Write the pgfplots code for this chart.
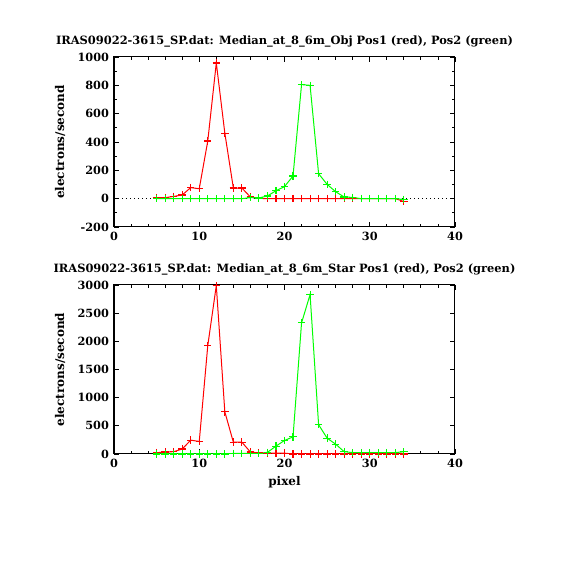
\documentclass[border=0pt]{standalone}
\usepackage{fontspec}
\setmainfont{DejaVu Serif}
\usepackage{pgfplots}
\pgfplotsset{compat=1.18}
\definecolor{pred}{RGB}{255,0,0}
\definecolor{pgreen}{RGB}{0,255,0}
\pgfplotsset{
  myaxis/.style={
    scale only axis, width=238.7pt, anchor=south west,
    xmin=0, xmax=40, xtick={0,10,20,30,40}, minor x tick num=4,
    tick align=inside, major tick length=3.5pt, minor tick length=1.8pt,
    every tick/.style={black, line width=0.6pt},
    axis line style={line width=0.7pt},
    /pgf/number format/assume math mode=true,
    /pgf/number format/1000 sep={},
    tick label style={font=\bfseries\fontsize{7.9}{9}\selectfont},
    title style={at={(axis description cs:0.5,1)}, anchor=base, yshift=2.4pt, font=\bfseries\fontsize{8.0}{9}\selectfont},
    ylabel style={at={(axis description cs:-0.158,0.5)}, anchor=center, font=\bfseries\fontsize{8.4}{10}\selectfont},
    xlabel style={at={(axis description cs:0.5,-0.166)}, anchor=center, font=\bfseries\fontsize{8.4}{10}\selectfont},
    ylabel={electrons/second},
  },
  redl/.style={draw=pred, line width=0.7pt, mark=+, mark size=2.6pt, mark options={draw=pred, solid, line width=0.8pt}},
  greenl/.style={draw=pgreen, line width=0.7pt, mark=+, mark size=2.6pt, mark options={draw=pgreen, solid, line width=0.8pt}},
}
\begin{document}
\begin{tikzpicture}
\path[use as bounding box] (0pt,0pt) rectangle (399pt,399pt);
\begin{axis}[myaxis, at={(79.8pt,240.1pt)}, height=119pt,
  ymin=-200, ymax=1000, ytick={-200,0,200,400,600,800,1000}, minor y tick num=1,
  title={IRAS09022-3615\textunderscore SP.dat: Median\textunderscore at\textunderscore 8\textunderscore 6m\textunderscore Obj Pos1 (red), Pos2 (green)}]
\addplot[black, line width=0.7pt, dash pattern=on 0.7pt off 2.1pt] coordinates {(0,0) (40,0)};
\addplot[redl] coordinates {
(5,7)(6,7)(7,16)(8,26)(9,78)(10,70)(11,407)(12,958)(13,463)(14,75)(15,75)(16,12)(17,2)
(18,0)(19,0)(20,0)(21,0)(22,0)(23,0)(24,0)(25,0)(26,0)(27,0)(28,0)(29,0)(30,0)(31,0)(32,0)(33,0)(34,-20)};
\addplot[greenl] coordinates {
(5,0)(6,0)(7,0)(8,0)(9,0)(10,0)(11,0)(12,0)(13,0)(14,0)(15,0)(16,7)(17,5)(18,19)(19,56)(20,85)
(21,160)(22,805)(23,800)(24,176)(25,101)(26,49)(27,12)(28,9)(29,0)(30,0)(31,0)(32,0)(33,0)(34,-5)};
\end{axis}
\begin{axis}[myaxis, at={(79.8pt,81.2pt)}, height=118.3pt,
  ymin=0, ymax=3000, ytick={0,500,1000,1500,2000,2500,3000},
  xlabel={pixel},
  title={IRAS09022-3615\textunderscore SP.dat: Median\textunderscore at\textunderscore 8\textunderscore 6m\textunderscore Star Pos1 (red), Pos2 (green)}]
\addplot[redl] coordinates {
(5,23)(6,35)(7,41)(8,88)(9,246)(10,222)(11,1924)(12,2990)(13,749)(14,210)(15,210)(16,35)(17,18)
(18,15)(19,15)(20,15)(21,0)(22,0)(23,0)(24,0)(25,0)(26,0)(27,0)(28,0)(29,0)(30,0)(31,0)(32,0)(33,0)(34,0)};
\addplot[greenl] coordinates {
(5,0)(6,0)(7,0)(8,0)(9,0)(10,0)(11,0)(12,0)(13,0)(14,10)(15,10)(16,10)(17,12)(18,29)(19,140)(20,240)
(21,304)(22,2327)(23,2830)(24,520)(25,281)(26,175)(27,41)(28,25)(29,25)(30,25)(31,25)(32,25)(33,25)(34,40)};
\end{axis}
\end{tikzpicture}
\end{document}
